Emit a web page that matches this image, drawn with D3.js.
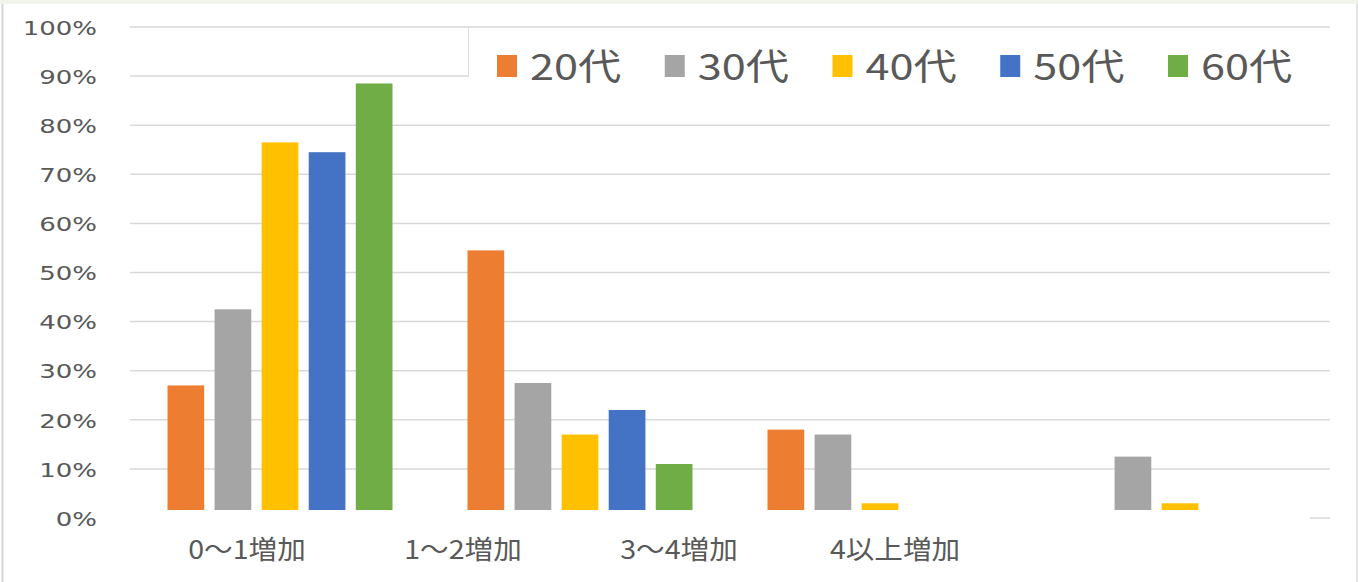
<!DOCTYPE html>
<html>
<head>
<meta charset="utf-8">
<script src="https://cdn.jsdelivr.net/npm/d3@7"></script>
<style>
  body { margin: 0; background: #fff; }
  svg { display: block; }
</style>
</head>
<body>
<div id="chart"></div>
<script>
// data (percent)
const categories = ["0～1増加", "1～2増加", "3～4増加", "4以上増加"];
const series = ["20代", "30代", "40代", "50代", "60代"];
const colors = ["#ED7D31", "#A5A5A5", "#FFC000", "#4472C4", "#70AD47"];
const age20 = [27, 54.5, 18, 0];
const age30 = [42.5, 27.5, 17, 12.5];
const age40 = [76.5, 17, 3, 3];
const age50 = [74.5, 22, 0, 0];
const age60 = [88.5, 11, 0, 0];
const yTicks = [0, 10, 20, 30, 40, 50, 60, 70, 80, 90, 100];

const seriesValues = [age20, age30, age40, age50, age60];
const rows = categories.map((c, i) => ({
  cat: c,
  vals: series.map((s, j) => ({ s: s, v: seriesValues[j][i], color: colors[j] }))
}));

const width = 1358, height = 582;
const margin = { top: 27, left: 130, right: 28, bottom: 64 };
const textColor = "#595959";

const svg = d3.select("#chart").append("svg")
  .attr("width", width)
  .attr("height", height);

svg.append("rect").attr("width", width).attr("height", height).attr("fill", "#fff");
// frame bits around the screenshot
svg.append("rect").attr("width", width).attr("height", 4).attr("fill", "#f2f5ec");
svg.append("line").attr("x1", 2.5).attr("x2", 2.5).attr("y1", 4).attr("y2", height)
  .attr("stroke", "#d6d6d6").attr("stroke-width", 2);
svg.append("line").attr("x1", width - 1).attr("x2", width - 1).attr("y1", 4).attr("y2", height)
  .attr("stroke", "#e3e3e3").attr("stroke-width", 2);

const y = d3.scaleLinear()
  .domain([0, 100])
  .range([height - margin.bottom - 0, margin.top]);

const x0 = d3.scaleBand()
  .domain(categories)
  .range([margin.left, width - margin.right])
  .paddingInner(0.25)
  .paddingOuter(0.125);

const x1 = d3.scaleBand()
  .domain(series)
  .range([0, x0.bandwidth()])
  .paddingInner(0.22);

// gridlines
svg.append("g").selectAll("line").data(yTicks).enter().append("line")
  .attr("x1", margin.left)
  .attr("x2", width - margin.right)
  .attr("y1", d => y(d))
  .attr("y2", d => y(d))
  .attr("stroke", "#d9d9d9")
  .attr("stroke-width", 1.5);

// y axis labels
const yAxis = svg.append("g")
  .attr("transform", `translate(97,0)`)
  .call(d3.axisLeft(y).tickValues(yTicks).tickSize(0).tickPadding(0).tickFormat(d => d + "%"));
yAxis.select(".domain").remove();
yAxis.selectAll("text")
  .attr("x", 0)
  .attr("dy", "0.36em")
  .attr("transform", "scale(1.3,1)")
  .style("font-family", "'DejaVu Sans', sans-serif")
  .style("font-size", "20px")
  .attr("fill", textColor);

// bars
const groups = svg.append("g").selectAll("g").data(rows).enter().append("g")
  .attr("transform", d => `translate(${x0(d.cat)},0)`);

groups.selectAll("rect").data(d => d.vals.filter(e => e.v > 0)).enter().append("rect")
  .attr("x", d => x1(d.s))
  .attr("y", d => y(d.v))
  .attr("width", x1.bandwidth())
  .attr("height", d => y(0) - y(d.v))
  .attr("fill", d => d.color);

// white patch under the bars where the labels sit
svg.append("rect")
  .attr("x", 110).attr("y", 510)
  .attr("width", 1200).attr("height", height - 510)
  .attr("fill", "#fff");

// category labels (placed as in the picture)
const xLabel = d3.scaleBand()
  .domain(categories)
  .range([139, 1003]);

const xAxis = svg.append("g")
  .attr("transform", `translate(0,559)`)
  .call(d3.axisBottom(xLabel).tickSize(0).tickPadding(0));
xAxis.select(".domain").remove();
xAxis.selectAll(".tick text")
  .attr("y", 0)
  .attr("dy", 0)
  .attr("transform", "scale(1.1,1)")
  .attr("x", function() {
    return 0;
  })
  .style("font-family", "'Noto Sans CJK JP', sans-serif")
  .style("font-size", "26px")
  .attr("fill", textColor);
// keep the stretched text centred on its tick
xAxis.selectAll(".tick").each(function(d) {
  d3.select(this).attr("transform", `translate(${xLabel(d) + xLabel.bandwidth() / 2},0)`);
});

// legend
svg.append("rect")
  .attr("x", 468).attr("y", 29)
  .attr("width", 864).attr("height", 70)
  .attr("fill", "#fff");
svg.append("line")
  .attr("x1", 468.5).attr("x2", 468.5).attr("y1", 28).attr("y2", 77)
  .attr("stroke", "#dedede").attr("stroke-width", 1);

const lx = d3.scaleBand().domain(series).range([497, 497 + 5 * 167.75]);

const legend = svg.append("g").selectAll("g").data(series).enter().append("g")
  .attr("transform", d => `translate(${lx(d)},66)`);

legend.append("rect")
  .attr("x", 0).attr("y", -11)
  .attr("width", 20).attr("height", 22)
  .attr("fill", (d, i) => colors[i]);

legend.append("text")
  .attr("transform", "translate(33,14) scale(1.2,1)")
  .style("font-family", "'Noto Sans CJK JP', sans-serif")
  .style("font-size", "36px")
  .attr("fill", textColor)
  .text(d => d);
</script>
</body>
</html>
